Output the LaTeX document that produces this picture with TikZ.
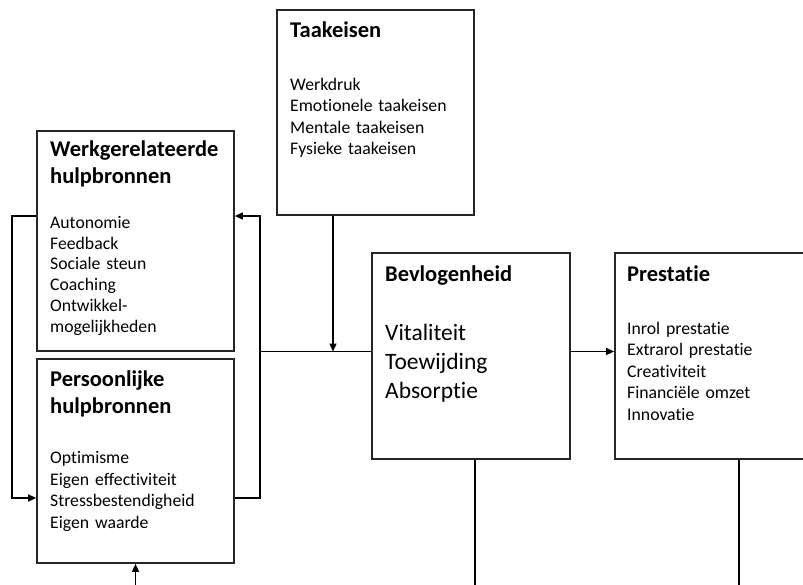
\documentclass[tikz,border=0pt]{standalone}
\usepackage{fontspec}
\setmainfont{Carlito}[Ligatures=NoCommon]
\usetikzlibrary{arrows.meta,positioning,calc}
\definecolor{frame}{HTML}{262626}

\begin{document}
\begin{tikzpicture}[x=1pt, y=-1pt,
  box/.style={draw=frame, line width=1.7pt, inner sep=0pt},
  ttl/.style={anchor=base west, inner sep=0pt, text width=190pt, align=left, font=\fontsize{22.5}{26.8}\selectfont\bfseries},
  itm/.style={anchor=base west, inner sep=0pt, text width=190pt, align=left, font=\fontsize{17.7}{21.2}\selectfont},
  big/.style={itm, font=\fontsize{23.5}{29}\selectfont},
  arr/.style={-{Triangle[length=8pt, width=7pt]}, line width=1.3pt},
  lnk/.style={line width=1.3pt}]
\useasboundingbox (0,0) rectangle (803,584);
% boxes
\node[box, minimum width=197pt, minimum height=220pt] (werk)  at (135.5,241) {};
\node[box, minimum width=197pt, minimum height=204pt] (pers)  at (135.5,461) {};
\node[box, minimum width=197pt, minimum height=205pt] (taak)  at (375.5,112.5) {};
\node[box, minimum width=198pt, minimum height=206pt] (bev)   at (471,356) {};
\node[box, minimum width=248pt, minimum height=206pt] (prest) at (739,356) {};
% texts
\node[ttl] (werkT) at (50,156.7) {Werkgerelateerde\\hulpbronnen};
\node[itm, font=\fontsize{17.7}{20.8}\selectfont] (werkL) at (50,228.3)
  {Autonomie\\Feedback\\Sociale steun\\Coaching\\Ontwikkel-\\mogelijkheden};
\node[ttl] (persT) at (50,386.7) {Persoonlijke\\hulpbronnen};
\node[itm, font=\fontsize{17.7}{21.7}\selectfont] (persL) at (50,463.3)
  {Optimisme\\Eigen effectiviteit\\Stressbestendigheid\\Eigen waarde};
\node[ttl] (taakT) at (290,37.3) {Taakeisen};
\node[itm] (taakL) at (290,90.7)
  {Werkdruk\\Emotionele taakeisen\\Mentale taakeisen\\Fysieke taakeisen};
\node[ttl] (bevT) at (385,281.7) {Bevlogenheid};
\node[big] (bevL) at (385,340) {Vitaliteit\\Toewijding\\Absorptie};
\node[ttl] (prestT) at (627,281.7) {Prestatie};
\node[itm, font=\fontsize{17.7}{21.5}\selectfont] (prestL) at (627,334)
  {Inrol prestatie\\Extrarol prestatie\\Creativiteit\\Financiële omzet\\Innovatie};
% helper levels
\coordinate (yw) at (0,216);
\coordinate (yp) at (0,498);
\coordinate (ym) at (0,351.5);
\coordinate (bot) at (0,586);
\coordinate (xl) at (12,0);
\coordinate (xr) at (260,0);
\coordinate (xt) at (333,0);
\coordinate (xb) at (475,0);
% connectors
\draw[arr] (werk.west |- yw) -| (xl |- yp) -- (pers.west |- yp);
\draw[arr] (pers.east |- yp) -| (xr |- yw) -- (werk.east |- yw);
\draw[lnk] (xr |- ym) -- (bev.west |- ym);
\draw[arr] (xt |- taak.south) -- (xt |- ym);
\draw[arr] (bev.east |- ym) -- (prest.west |- ym);
\draw[arr] (pers.south |- bot) -- (pers.south);
\draw[lnk] (xb |- bev.south) -- (xb |- bot);
\draw[lnk] (prest.south) -- (prest.south |- bot);
\end{tikzpicture}
\end{document}
